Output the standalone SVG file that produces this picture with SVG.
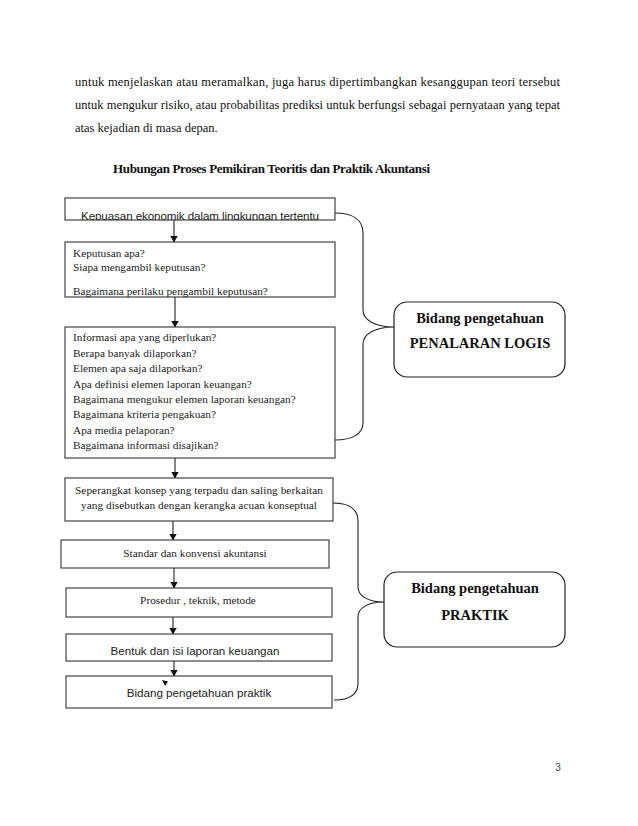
<svg xmlns="http://www.w3.org/2000/svg" width="638" height="826" viewBox="0 0 638 826">
<style>
.para{font-family:"Liberation Serif",serif;font-size:12.5px;fill:#111}
.title{font-family:"Liberation Serif",serif;font-size:13px;font-weight:bold;fill:#111}
.box{fill:#fff;stroke:#333;stroke-width:1.1}
.q{font-family:"Liberation Serif",serif;font-size:11.3px;fill:#222}
.s{font-family:"Liberation Sans",Arial,sans-serif;font-size:11.6px;fill:#222}
.rb{fill:#fff;stroke:#222;stroke-width:1.2}
.bt{font-family:"Liberation Serif",serif;font-size:14.5px;font-weight:bold;fill:#111;text-anchor:middle}
.ln{fill:none;stroke:#222;stroke-width:1.1}
.mid{text-anchor:middle}
</style>
<defs>
<marker id="ah" markerWidth="7" markerHeight="8" refX="6.5" refY="4" orient="auto" markerUnits="userSpaceOnUse" viewBox="0 0 7 8">
<path d="M0,0 L7,4 L0,8 Z" fill="#111"/>
</marker>
<clipPath id="c1"><rect x="65" y="198" width="270" height="22"/></clipPath>
<clipPath id="c2"><rect x="65" y="242" width="270" height="55"/></clipPath>
</defs>
<rect width="638" height="826" fill="#fff"/>

<g id="paragraph">
<text class="para" x="75" y="86" textLength="485" lengthAdjust="spacing">untuk menjelaskan atau meramalkan, juga harus dipertimbangkan kesanggupan teori tersebut</text>
<text class="para" x="75" y="109" textLength="485" lengthAdjust="spacing">untuk mengukur risiko, atau probabilitas prediksi untuk berfungsi sebagai pernyataan yang tepat</text>
<text class="para" x="75" y="132">atas kejadian di masa depan.</text>
<text class="title" x="113" y="173" textLength="317" lengthAdjust="spacing">Hubungan Proses Pemikiran Teoritis dan Praktik Akuntansi</text>
</g>

<g id="connectors">
<line class="ln" x1="174" y1="220" x2="174" y2="242" marker-end="url(#ah)"/>
<line class="ln" x1="175" y1="297" x2="175" y2="327" marker-end="url(#ah)"/>
<line class="ln" x1="175" y1="458" x2="175" y2="478" marker-end="url(#ah)"/>
<line class="ln" x1="173" y1="521" x2="173" y2="540" marker-end="url(#ah)"/>
<line class="ln" x1="174" y1="568" x2="174" y2="588" marker-end="url(#ah)"/>
<line class="ln" x1="173" y1="617" x2="173" y2="634" marker-end="url(#ah)"/>
<line class="ln" x1="174" y1="661" x2="174" y2="676" marker-end="url(#ah)"/>
<path class="ln" d="M335,213 C353,213 363,220 363,233 L363,310 C363,320 375,327 394,327 C375,327 363,334 363,344 L363,423 C363,434 352,440 335,440"/>
<path class="ln" d="M333,503 C350,503 358,510 358,521 L358,587 C358,596 368,602 384,602 C368,602 358,608 358,617 L358,683 C358,694 350,700 334,700"/>
</g>

<g id="n1">
<rect class="box" x="65" y="198" width="270" height="22"/>
<text class="s mid" x="200" y="219.5" clip-path="url(#c1)" textLength="238" lengthAdjust="spacing">Kepuasan ekonomik dalam lingkungan tertentu</text>
</g>

<g id="n2">
<rect class="box" x="65" y="242" width="270" height="55"/>
<g clip-path="url(#c2)">
<text class="q" x="73" y="257">Keputusan apa?</text>
<text class="q" x="73" y="271">Siapa mengambil keputusan?</text>
<text class="q" x="73" y="295">Bagaimana perilaku pengambil keputusan?</text>
</g>
</g>

<g id="n3">
<rect class="box" x="65" y="327" width="270" height="131"/>
<text class="q" x="73" y="341">Informasi apa yang diperlukan?</text>
<text class="q" x="73" y="356.5">Berapa banyak dilaporkan?</text>
<text class="q" x="73" y="372">Elemen apa saja dilaporkan?</text>
<text class="q" x="73" y="387.5">Apa definisi elemen laporan keuangan?</text>
<text class="q" x="73" y="403">Bagaimana mengukur elemen laporan keuangan?</text>
<text class="q" x="73" y="418">Bagaimana kriteria pengakuan?</text>
<text class="q" x="73" y="433.5">Apa media pelaporan?</text>
<text class="q" x="73" y="449">Bagaimana informasi disajikan?</text>
</g>

<g id="n4">
<rect class="box" x="65" y="478" width="268" height="43"/>
<text class="q mid" x="199" y="494" textLength="248" lengthAdjust="spacing">Seperangkat konsep yang terpadu dan saling berkaitan</text>
<text class="q mid" x="199" y="509" textLength="236" lengthAdjust="spacing">yang disebutkan dengan kerangka acuan konseptual</text>
</g>

<g id="n5">
<rect class="box" x="61" y="540" width="268" height="28"/>
<text class="q mid" x="195" y="557">Standar dan konvensi akuntansi</text>
</g>

<g id="n6">
<rect class="box" x="66" y="588" width="266" height="29"/>
<text class="q mid" x="198" y="604">Prosedur , teknik, metode</text>
</g>

<g id="n7">
<rect class="box" x="66" y="634" width="266" height="27"/>
<text class="s mid" x="195" y="655">Bentuk dan isi laporan keuangan</text>
</g>

<g id="n8">
<rect class="box" x="66" y="676" width="266" height="32"/>
<polygon points="162,680 168,681.5 165,686" fill="#111"/>
<text class="s mid" x="199" y="697">Bidang pengetahuan praktik</text>
</g>

<g id="penalaran">
<rect class="rb" x="394" y="302" width="171" height="75" rx="13"/>
<text class="bt" x="480" y="323">Bidang pengetahuan</text>
<text class="bt" x="480" y="348">PENALARAN LOGIS</text>
</g>

<g id="praktik">
<rect class="rb" x="384" y="572" width="181" height="75" rx="13"/>
<text class="bt" x="475" y="593">Bidang pengetahuan</text>
<text class="bt" x="475" y="620">PRAKTIK</text>
</g>

<text x="558" y="771" font-family="'Liberation Sans',Arial,sans-serif" font-size="10" fill="#444" text-anchor="middle">3</text>
</svg>
